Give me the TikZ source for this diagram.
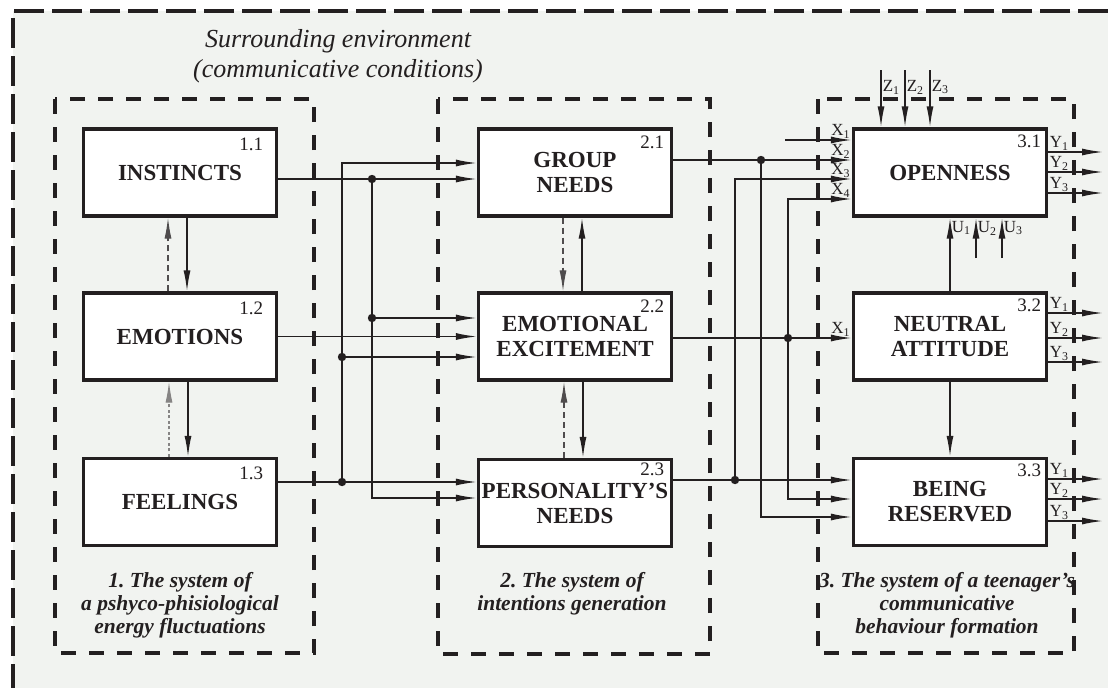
\documentclass[tikz,border=0pt]{standalone}
\usepackage{fontspec}
\setmainfont{Liberation Serif}
\usetikzlibrary{arrows.meta}
\definecolor{ink}{HTML}{231F20}
\definecolor{paper}{HTML}{F1F3F0}
\newcommand{\sig}[2]{#1\textsubscript{#2}}
\frenchspacing

\begin{document}
\begin{tikzpicture}[x=1pt,y=-1pt]
        \tikzstyle{block}=[draw=ink, line width=3.4pt, fill=white,
            minimum width=193pt, minimum height=87pt, inner sep=0pt,
            align=center, text=ink,
            font=\fontsize{23}{25}\selectfont\bfseries]
        \tikzstyle{num}=[anchor=north east, inner sep=0pt, text=ink,
            font=\fontsize{19}{19}\selectfont]
        \tikzstyle{conn}=[draw=ink, line width=1.5pt]
        \tikzstyle{arr}=[conn, -{Latex[length=21pt,width=7pt]}]
        \tikzstyle{back}=[draw=ink!80, line width=1.2pt, dash pattern=on 6pt off 4pt]
        \tikzstyle{faint}=[draw=ink!55, line width=1.1pt, dash pattern=on 3pt off 2.5pt]
        \tikzstyle{io}=[inner sep=1pt, text=ink, font=\fontsize{17}{17}\selectfont]
        \tikzstyle{frame}=[draw=ink, line width=3.2pt, dash pattern=on 15pt off 13pt]
        \tikzstyle{syscap}=[align=center, text=ink, inner sep=0pt,
            font=\fontsize{21.5}{23}\selectfont\bfseries\itshape]

        \useasboundingbox (0,0) rectangle (1108,688);
        \fill[paper] (13,11) rectangle (1108,688);
        \draw[ink, line width=3.4pt, dash pattern=on 30pt off 8pt]
            (1108,11) -- (13,11) -- (13,688);

        \node[align=center, text=ink, font=\fontsize{26}{30}\selectfont\itshape]
            (env) at (338,56) {Surrounding environment\\(communicative conditions)};

        % the three systems
        \draw[frame] (55,99) rectangle (314,653);
        \draw[frame] (438,99) rectangle (710,654);
        \draw[frame] (818,99) rectangle (1074,653);

        \node[syscap] (c1) at (180,605) {1. The system of\\a pshyco-phisiological\\energy fluctuations};
        \node[syscap] (c2) at (572,594) {2. The system of\\intentions generation};
        \node[syscap] (c3) at (947,605) {3. The system of a teenager’s\\communicative\\behaviour formation};

        % blocks
        \node[block] (b11) at (180,172.5) {INSTINCTS};
        \node[block] (b12) at (180,336.5) {EMOTIONS};
        \node[block] (b13) at (180,502) {FEELINGS};
        \node[block] (b21) at (575,172.5) {GROUP\\NEEDS};
        \node[block] (b22) at (575,336.5) {EMOTIONAL\\EXCITEMENT};
        \node[block] (b23) at (575,503) {PERSONALITY’S\\NEEDS};
        \node[block] (b31) at (950,172.5) {OPENNESS};
        \node[block] (b32) at (950,336.5) {NEUTRAL\\ATTITUDE};
        \node[block] (b33) at (950,502) {BEING\\RESERVED};

        \foreach \b/\t/\dx/\dy in {b11/1.1/-15/-10, b12/1.2/-15/-10, b13/1.3/-15/-10,
            b21/2.1/-9/-8, b22/2.2/-9/-8, b23/2.3/-9/-5,
            b31/3.1/-7/-7, b32/3.2/-7/-7, b33/3.3/-7/-7}
            \node[num] (n\b) at ([xshift=\dx pt, yshift=\dy pt]\b.north east) {\t};

        % inside column 1
        \draw[arr] ([xshift=7pt]b11.south) -- ([xshift=7pt]b12.north);
        \draw[arr, back] ([xshift=-12pt]b12.north) -- ([xshift=-12pt]b11.south);
        \draw[arr] ([xshift=8pt]b12.south) -- ([xshift=8pt]b13.north);
        \draw[arr, faint] ([xshift=-11pt]b13.north) -- ([xshift=-11pt]b12.south);

        % inside column 2
        \draw[arr, back] ([xshift=-12pt]b21.south) -- ([xshift=-12pt]b22.north);
        \draw[arr] ([xshift=7pt]b22.north) -- ([xshift=7pt]b21.south);
        \draw[arr, back] ([xshift=-11pt]b23.north) -- ([xshift=-11pt]b22.south);
        \draw[arr] ([xshift=8pt]b22.south) -- ([xshift=8pt]b23.north);

        % inside column 3
        \draw[arr] (b32.north) -- (b31.south)
            node[io, pos=0.86, right] {\sig{U}{1}};
        \draw[arr] (b32.south) -- (b33.north);
        \coordinate (u2) at (976,258);
        \coordinate (u3) at (1002,258);
        \draw[arr] (u2) -- (u2 |- b31.south) node[io, pos=0.74, right] {\sig{U}{2}};
        \draw[arr] (u3) -- (u3 |- b31.south) node[io, pos=0.74, right] {\sig{U}{3}};
        \foreach \x/\i in {881/1, 905/2, 930/3} {
            \coordinate (z\i) at (\x,70);
            \draw[arr] (z\i) -- (z\i |- b31.north) node[io, pos=0.3, right] {\sig{Z}{\i}};
        }

        % column 1 -> column 2
        \coordinate (p1) at (372,179);
        \coordinate (p2) at (372,318);
        \coordinate (p3) at (372,498);
        \coordinate (q1) at (342,163);
        \coordinate (q2) at (342,357);
        \coordinate (q3) at (342,482);
        \draw[arr] (b11.east |- p1) -- (b21.west |- p1);
        \draw[arr] (p1) -- (p3) -- (b23.west |- p3);
        \draw[arr] (p2) -- (b22.west |- p2);
        \draw[arr] (b12.east) -- (b22.west);
        \draw[arr] (b13.east |- q3) -- (b23.west |- q3);
        \draw[arr] (q3) -- (q1) -- (b21.west |- q1);
        \draw[arr] (q2) -- (b22.west |- q2);

        % column 2 -> column 3
        \coordinate (s1) at (761,160);
        \coordinate (s2) at (761,517);
        \coordinate (t1) at (735,480);
        \coordinate (t2) at (735,179);
        \coordinate (w1) at (788,338);
        \coordinate (w2) at (788,199);
        \coordinate (w3) at (788,499);
        \coordinate (xin) at (785,140);
        \draw[arr] (xin) -- (b31.west |- xin) node[io, pos=1, above left] {\sig{X}{1}};
        \draw[arr] (b21.east |- s1) -- (b31.west |- s1) node[io, pos=1, above left] {\sig{X}{2}};
        \draw[arr] (s1) -- (s2) -- (b33.west |- s2);
        \draw[arr] (b23.east |- t1) -- (b33.west |- t1);
        \draw[arr] (t1) -- (t2) -- (b31.west |- t2) node[io, pos=1, above left] {\sig{X}{3}};
        \draw[arr] (b22.east |- w1) -- (b32.west |- w1) node[io, pos=1, above left] {\sig{X}{1}};
        \draw[arr] (w1) -- (w2) -- (b31.west |- w2) node[io, pos=1, above left] {\sig{X}{4}};
        \draw[arr] (w1) -- (w3) -- (b33.west |- w3);

        \foreach \c in {p1, p2, q2, q3, s1, t1, w1}
            \fill[ink] (\c) circle (4.2pt);

        % outputs
        \foreach \b/\ya/\yb/\yc in {b31/152/172/193, b32/313/338/362, b33/479/499/521} {
            \foreach \y [count=\k] in {\ya, \yb, \yc} {
                \coordinate (o\b\k) at (1103,\y);
                \draw[arr] (\b.east |- o\b\k) -- (o\b\k)
                    node[io, pos=0, above right] {\sig{Y}{\k}};
            }
        }
\end{tikzpicture}
\end{document}
